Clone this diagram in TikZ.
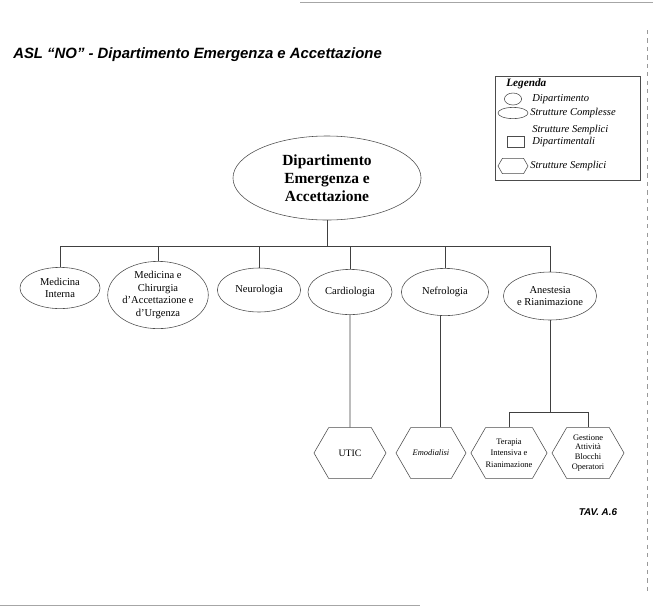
\documentclass[tikz,border=0pt]{standalone}
\usepackage{fontspec}
\setmainfont{Liberation Serif}
\newfontfamily\titlefont{Liberation Sans}
\usepackage{tikz}
\usetikzlibrary{shapes.geometric, shapes.symbols, positioning}
\tikzstyle{dept} = [ellipse, draw=black!70, inner sep=0pt, align=center, minimum width=4.7cm, minimum height=2.1cm, font=\bfseries\fontsize{11}{12.8}\selectfont]
\tikzstyle{complex} = [ellipse, draw=black!70, inner sep=0pt, align=center, minimum width=2.1cm, minimum height=1.12cm, font=\fontsize{7.5}{9}\selectfont]
\tikzstyle{simple} = [signal, signal to=west and east, signal pointer angle=120, draw=black!70, inner sep=0pt, align=center, minimum width=1.8cm, minimum height=1.27cm, font=\fontsize{6}{8}\selectfont]
\tikzstyle{legtext} = [anchor=west, inner sep=0pt, align=left, font=\itshape\fontsize{7.5}{8.5}\selectfont]
\tikzstyle{link} = [draw=black!75, line width=0.5pt]

\begin{document}
\begin{tikzpicture}[x=0.025cm, y=-0.025cm]
\useasboundingbox (0,0) rectangle (653,608);

% page edges of the scan
\draw[black!35] (300,2) -- (653,2);
\draw[black!35] (0,605) -- (420,605);
\draw[black!40, dashed] (647,30) -- (647,595);

% title
\node[anchor=west, inner sep=0pt, font=\titlefont\bfseries\itshape\fontsize{10.6}{12}\selectfont] (title) at (13,55) {ASL “NO” - Dipartimento Emergenza e Accettazione};

% legend
\draw[black!70] (495,76) rectangle (640,180);
\node[anchor=west, inner sep=0pt, font=\bfseries\itshape\fontsize{8}{9}\selectfont] (legtitle) at (506,84) {Legenda};
\node[ellipse, draw=black!70, minimum width=0.43cm, minimum height=0.3cm, inner sep=0pt] (leg1) at (513,99) {};
\node[legtext] (legt1) at (532,99) {Dipartimento};
\node[ellipse, draw=black!70, minimum width=0.75cm, minimum height=0.28cm, inner sep=0pt] (leg2) at (513,113) {};
\node[legtext] (legt2) at (530,113) {Strutture Complesse};
\node[rectangle, draw=black!70, minimum width=0.43cm, minimum height=0.28cm, inner sep=0pt] (leg3) at (516,142) {};
\node[legtext] (legt3) at (532,136) {Strutture Semplici\\Dipartimentali};
\node[signal, signal to=west and east, signal pointer angle=120, draw=black!70, minimum width=0.75cm, minimum height=0.38cm, inner sep=0pt] (leg4) at (513,166) {};
\node[legtext] (legt4) at (530,166) {Strutture Semplici};

% department
\node[dept] (dea) at (327,178) {Dipartimento\\Emergenza e\\Accettazione};

% complex structures
\node[complex, minimum width=2.0cm, minimum height=1.03cm] (medint) at (60,288) {Medicina\\Interna};
\node[complex, minimum width=2.15cm, minimum height=1.5cm] (medchir) at (158,295) {Medicina e\\Chirurgia\\d'Accettazione e\\d'Urgenza};
\node[complex, minimum width=2.08cm, minimum height=1.1cm] (neuro) at (259,290) {Neurologia};
\node[complex, minimum width=2.1cm, minimum height=1.13cm] (cardio) at (350,292) {Cardiologia};
\node[complex, minimum width=2.18cm, minimum height=1.18cm] (nefro) at (445,292) {Nefrologia};
\node[complex, minimum width=2.15cm, minimum height=1.2cm] (anest) at (550,296) {Anestesia\\e Rianimazione};

% simple structures
\node[simple, font=\fontsize{7}{8}\selectfont] (utic) at (350,453) {UTIC};
\node[simple, font=\itshape\fontsize{6}{8}\selectfont, minimum width=1.75cm] (emo) at (431,453) {Emodialisi};
\node[simple] (terapia) at (509,453) {Terapia\\Intensiva e\\Rianimazione};
\node[simple, font=\fontsize{6}{7}\selectfont] (gestione) at (588,453) {Gestione\\Attività\\Blocchi\\Operatori};

\node[inner sep=0pt, font=\titlefont\bfseries\itshape\fontsize{7}{8}\selectfont] (tav) at (598,512) {TAV. A.6};

% connectors
\coordinate (bus) at (327,246);
\coordinate (anbus) at (550,412);
\coordinate (nefdrop) at ([xshift=-0.125cm]nefro.south);
\draw[link] (dea) -- (bus);
\draw[link] (bus) -| (medint);
\draw[link] (bus) -| (medchir);
\draw[link] (bus) -| (neuro);
\draw[link] (bus) -| (cardio);
\draw[link] (bus) -| (nefro);
\draw[link] (bus) -| (anest);

\draw[link] (cardio) -- (utic);
\draw[link] (nefdrop) -- (nefdrop |- emo.north);
\draw[link] (anest) -- (anbus);
\draw[link] (anbus) -| (terapia);
\draw[link] (anbus) -| (gestione);

\end{tikzpicture}
\end{document}
